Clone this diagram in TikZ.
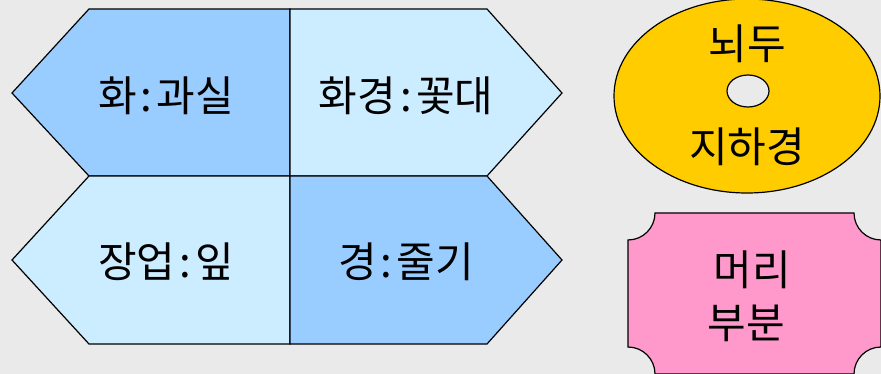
\documentclass[tikz,border=0pt]{standalone}
\usepackage{fontspec}
\setmainfont{Noto Sans CJK KR}
\definecolor{bg}{HTML}{EAEAEA}
\definecolor{darkblue}{HTML}{99CCFF}
\definecolor{lightblue}{HTML}{CCECFF}
\definecolor{gold}{HTML}{FFCC00}
\definecolor{pink}{HTML}{FF99CC}
\newcommand{\colonsep}{\hspace{.1em}:\hspace{.1em}}
\tikzset{
  part/.style={draw=black, line width=1.2pt, line join=miter},
  word/.style={font=\fontsize{42}{46}\selectfont, inner sep=0pt}
}
\begin{document}
\begin{tikzpicture}[x=1pt, y=-1pt]
  \useasboundingbox (0,0) rectangle (881,374);
  \fill[bg] (0,0) rectangle (881,374);
  % hexagon halves
  \draw[part, fill=darkblue] (290,9) -- (89,9) -- (12,93) -- (89,176) -- (290,176) -- cycle;
  \draw[part, fill=lightblue] (290,9) -- (487,9) -- (562,93) -- (487,176) -- (290,176) -- cycle;
  \draw[part, fill=lightblue] (290,176) -- (89,176) -- (12,260) -- (89,344) -- (290,344) -- cycle;
  \draw[part, fill=darkblue] (290,176) -- (487,176) -- (562,260) -- (487,344) -- (290,344) -- cycle;
  \draw
    (166,96) node[word] (flower){화\colonsep 과실}
    (406,96) node[word] (stalk){화경\colonsep 꽃대}
    (166,262) node[word] (leaf){장업\colonsep 잎}
    (406,262) node[word] (stem){경\colonsep 줄기};
  % bulb
  \draw[part, fill=gold] (747,96) ellipse [x radius=133, y radius=97];
  \draw[part, fill=bg] (748,91) ellipse [x radius=21, y radius=16];
  \draw
    (747,44) node[word] (top){뇌두}
    (747,147) node[word] (root){지하경};
  % head
  \draw[part, fill=pink]
    (655,213) -- (854,213) arc[start angle=180, end angle=90, radius=27]
    -- (881,347) arc[start angle=270, end angle=180, radius=27]
    -- (655,374) arc[start angle=0, end angle=-90, radius=27]
    -- (628,240) arc[start angle=90, end angle=0, radius=27] -- cycle;
  \draw
    (752,270) node[word] (head){머리}
    (746,323) node[word] (part){부분};
\end{tikzpicture}
\end{document}
